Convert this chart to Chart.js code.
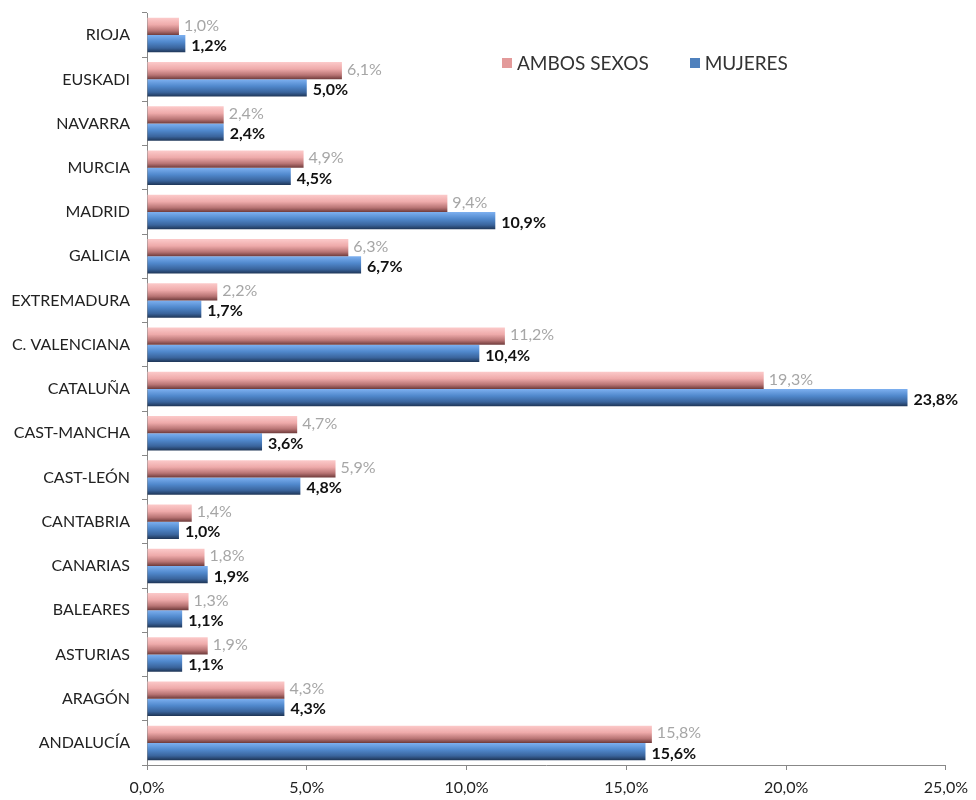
<!DOCTYPE html>
<html>
<head>
<meta charset="utf-8">
<script src="https://cdn.jsdelivr.net/npm/chart.js@4"></script>
<style>
  body { margin: 0; background: #fff; }
  #wrap { position: relative; width: 976px; height: 800px; }
  #legend { position: absolute; left: 502px; top: 51px; font-family: Lato, sans-serif; font-size: 19px; color: #333; white-space: nowrap; }
  #legend span.sw { display: inline-block; width: 10px; height: 10px; margin-right: 5px; vertical-align: 2px; }
  #legend span.item { margin-right: 36px; }
</style>
</head>
<body>
<div id="wrap">
  <canvas id="chart" width="976" height="800"></canvas>
  <div id="legend">
    <span class="item"><span class="sw" style="background:#e39a9a"></span>AMBOS SEXOS</span>
    <span class="item"><span class="sw" style="background:#4f81bd"></span>MUJERES</span>
  </div>
</div>
<script>
// Comunidades (de arriba a abajo)
const regiones = ['RIOJA', 'EUSKADI', 'NAVARRA', 'MURCIA', 'MADRID', 'GALICIA', 'EXTREMADURA',
  'C. VALENCIANA', 'CATALUÑA', 'CAST-MANCHA', 'CAST-LEÓN', 'CANTABRIA', 'CANARIAS',
  'BALEARES', 'ASTURIAS', 'ARAGÓN', 'ANDALUCÍA'];
const ambosSexos = [1.0, 6.1, 2.4, 4.9, 9.4, 6.3, 2.2, 11.2, 19.3, 4.7, 5.9, 1.4, 1.8, 1.3, 1.9, 4.3, 15.8];
const mujeres = [1.2, 5.0, 2.4, 4.5, 10.9, 6.7, 1.7, 10.4, 23.8, 3.6, 4.8, 1.0, 1.9, 1.1, 1.1, 4.3, 15.6];
const ejeX = [0, 5, 10, 15, 20, 25];

const catPct = 0.78;
const fmt = v => v.toFixed(1).replace('.', ',') + '%';

// degradado vertical por barra, calculado desde la escala y
function grad(stops, lado) {
  return (ctx) => {
    const ys = ctx.chart.scales.y;
    if (!ys || ctx.dataIndex == null) return stops[1];
    const center = ys.getPixelForValue(ctx.dataIndex);
    const band = (ys.bottom - ys.top) / regiones.length;
    if (!isFinite(center) || !isFinite(band) || band <= 0) return stops[1];
    const half = band * catPct / 2;
    const top = lado === 0 ? center - half : center;
    const bot = top + half;
    const g = ctx.chart.ctx.createLinearGradient(0, top, 0, bot);
    g.addColorStop(0, stops[0]);
    g.addColorStop(0.4, stops[1]);
    g.addColorStop(0.75, stops[2]);
    g.addColorStop(1, stops[3]);
    return g;
  };
}

const etiquetas = {
  id: 'etiquetas',
  afterDatasetsDraw(chart) {
    const c = chart.ctx;
    chart.data.datasets.forEach((ds, i) => {
      chart.getDatasetMeta(i).data.forEach((bar, j) => {
        c.save();
        c.textBaseline = 'middle';
        c.textAlign = 'left';
        if (i === 0) {
          c.font = '16px Lato, sans-serif';
          c.fillStyle = '#a6a6a6';
          c.fillText(fmt(ds.data[j]), bar.x + 5, bar.y - 1);
        } else {
          c.font = 'bold 16px Lato, sans-serif';
          c.fillStyle = '#111';
          c.fillText(fmt(ds.data[j]), bar.x + 6, bar.y + 2);
        }
        c.restore();
      });
    });
  }
};

new Chart(document.getElementById('chart'), {
  type: 'bar',
  data: {
    labels: regiones,
    datasets: [{
      label: 'AMBOS SEXOS',
      data: ambosSexos,
      backgroundColor: grad(['#fccaca', '#eeaaaa', '#b87474', '#6e3a3a'], 0),
      borderWidth: 0
    }, {
      label: 'MUJERES',
      data: mujeres,
      backgroundColor: grad(['#7db0f0', '#5088cc', '#3a649c', '#1e3556'], 1),
      borderWidth: 0
    }]
  },
  options: {
    indexAxis: 'y',
    responsive: false,
    animation: false,
    categoryPercentage: catPct,
    barPercentage: 1.0,
    layout: { padding: { top: 13, right: 24, left: 0, bottom: 0 } },
    plugins: { legend: { display: false }, tooltip: { enabled: false } },
    scales: {
      x: {
        min: 0, max: 25,
        afterBuildTicks: (s) => { s.ticks = ejeX.map(v => ({ value: v })); },
        afterFit: (s) => { s.height = 35; },
        grid: { drawOnChartArea: false, tickLength: 5, color: '#888' },
        border: { color: '#888' },
        ticks: { callback: v => fmt(v), color: '#222', padding: 8, font: { family: 'Lato', size: 16 } }
      },
      y: {
        afterFit: (s) => { s.width = 147; s.paddingTop = 0; s.paddingBottom = 0; },
        grid: { drawOnChartArea: false, tickLength: 5, color: '#888', offset: true },
        border: { color: '#888' },
        ticks: { color: '#222', padding: 12, font: { family: 'Lato', size: 16 } }
      }
    }
  },
  plugins: [etiquetas]
});
</script>
</body>
</html>
